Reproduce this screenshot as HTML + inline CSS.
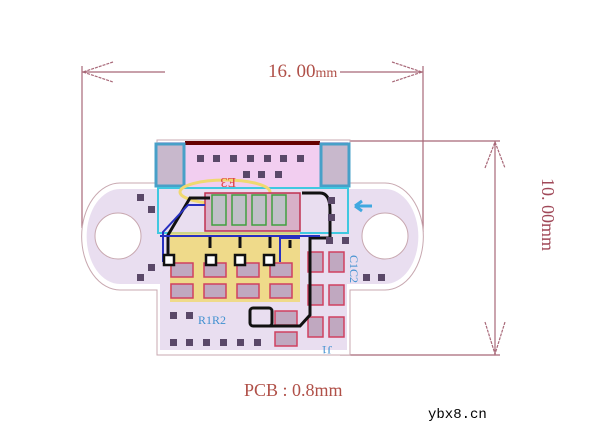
<!DOCTYPE html>
<html><head><style>body{margin:0;background:#fff}svg{display:block}</style></head><body>
<svg width="608" height="444" viewBox="0 0 608 444" xmlns="http://www.w3.org/2000/svg" font-family="Liberation Serif, serif">
<!-- dimension lines -->
<g stroke="#a86878" stroke-width="1.2" fill="none">
<line x1="82" y1="66" x2="82" y2="228"/>
<line x1="423" y1="66" x2="423" y2="232"/>
<line x1="82" y1="72" x2="165" y2="72"/>
<line x1="340" y1="72" x2="423" y2="72"/>
<path d="M113 62 L83 72 L113 82" stroke-dasharray="3 1"/>
<path d="M392 62 L422 72 L392 82" stroke-dasharray="3 1"/>
<line x1="350" y1="141" x2="500" y2="141"/>
<line x1="340" y1="355" x2="500" y2="355"/>
<line x1="495" y1="141" x2="495" y2="355"/>
<path d="M485 168 L495 142 L505 168" stroke-dasharray="3 1"/>
<path d="M485 322 L495 354 L505 322" stroke-dasharray="3 1"/>
</g>
<text x="268" y="77" font-size="19" fill="#b05048">16. 00<tspan font-size="14">mm</tspan></text>
<text transform="translate(542,178) rotate(90)" font-size="18" fill="#a04858">10. 00mm</text>
<text x="244" y="396" font-size="18" fill="#b05048">PCB : 0.8mm</text>
<text x="428" y="418" font-size="14" font-family="Liberation Mono, monospace" fill="#000">ybx8.cn</text>
<!-- board outline -->
<path d="M157 140 H350 V183 H385 A38 53 0 0 1 385 290 H350 V355 H157 V290 H120 A38 53 0 0 1 120 183 H157 Z" fill="#fff" stroke="#c8a8b0" stroke-width="1"/>
<path d="M160 143 H347 V189 H385 A33 47 0 0 1 385 284 H347 V350 H160 V284 H120 A33 47 0 0 1 120 189 H160 Z" fill="#e9def0"/>
<circle cx="118" cy="236" r="23" fill="#fff" stroke="#c8a8b0"/>
<circle cx="385" cy="236" r="23" fill="#fff" stroke="#c8a8b0"/>
<!-- connector top -->
<rect x="158" y="142" width="190" height="46" fill="#f2cef0"/>
<rect x="185" y="141" width="135" height="4" fill="#600"/>
<rect x="156" y="144" width="28" height="42" fill="#c8b8cc" stroke="#48a0c8" stroke-width="3"/>
<rect x="321" y="144" width="28" height="42" fill="#c8b8cc" stroke="#48a0c8" stroke-width="3"/>
<rect x="158" y="188" width="190" height="45" fill="none" stroke="#40c8e0" stroke-width="2"/>
<!-- yellow fill region -->
<rect x="170" y="232" width="130" height="70" fill="#f0d870" opacity="0.8"/>
<ellipse cx="225" cy="192" rx="45" ry="12" fill="none" stroke="#f0d870" stroke-width="3"/>
<!-- resistor array -->
<rect x="205" y="193" width="95" height="38" fill="#d8b0c8" stroke="#c03050" stroke-width="1.5"/>
<g fill="#c0c0c8" stroke="#40a040" stroke-width="1.5">
<rect x="212" y="195" width="14" height="30"/><rect x="232" y="195" width="14" height="30"/><rect x="252" y="195" width="14" height="30"/><rect x="272" y="195" width="14" height="30"/>
</g>
<!-- pads -->
<g fill="#c0a8c0" stroke="#d04060" stroke-width="1.5">
<rect x="171" y="263" width="22" height="14"/><rect x="204" y="263" width="22" height="14"/><rect x="237" y="263" width="22" height="14"/><rect x="270" y="263" width="22" height="14"/>
<rect x="171" y="284" width="22" height="14"/><rect x="204" y="284" width="22" height="14"/><rect x="237" y="284" width="22" height="14"/><rect x="270" y="284" width="22" height="14"/>
<rect x="329" y="252" width="15" height="20"/><rect x="329" y="285" width="15" height="20"/><rect x="329" y="317" width="15" height="20"/>
<rect x="308" y="252" width="15" height="20"/><rect x="308" y="285" width="15" height="20"/><rect x="308" y="317" width="15" height="20"/>
<rect x="275" y="311" width="22" height="14"/><rect x="275" y="332" width="22" height="14"/>
</g>
<!-- traces -->
<g fill="none" stroke="#111" stroke-width="3">
<path d="M168 262 V235 L190 198 H210"/>
<path d="M302 193 H320 Q330 193 330 210 V238 H310 V315 L300 326 H262"/>
<rect x="250" y="308" width="22" height="18" rx="3"/>
<path d="M210 248 V235 M240 248 V235 M270 248 V235 M290 248 V240"/>
</g>
<g fill="none" stroke="#2830c0" stroke-width="2">
<path d="M163 262 V232 L188 205 H205"/>
<path d="M280 262 V238 H300"/>
<line x1="160" y1="236" x2="320" y2="236"/>
</g>
<g fill="#fff" stroke="#111" stroke-width="2.5">
<rect x="164" y="255" width="10" height="10"/><rect x="206" y="255" width="10" height="10"/><rect x="235" y="255" width="10" height="10"/><rect x="264" y="255" width="10" height="10"/>
</g>
<!-- via squares -->
<g fill="#5a4868">
<rect x="197" y="155" width="7" height="7"/><rect x="213" y="155" width="7" height="7"/><rect x="230" y="155" width="7" height="7"/><rect x="247" y="155" width="7" height="7"/><rect x="264" y="155" width="7" height="7"/><rect x="280" y="155" width="7" height="7"/><rect x="297" y="155" width="7" height="7"/>
<rect x="243" y="171" width="7" height="7"/><rect x="258" y="171" width="7" height="7"/><rect x="275" y="171" width="7" height="7"/>
<rect x="137" y="194" width="7" height="7"/><rect x="148" y="206" width="7" height="7"/><rect x="148" y="264" width="7" height="7"/><rect x="137" y="274" width="7" height="7"/>
<rect x="328" y="197" width="7" height="7"/><rect x="328" y="214" width="7" height="7"/><rect x="326" y="237" width="7" height="7"/><rect x="342" y="237" width="7" height="7"/>
<rect x="363" y="274" width="7" height="7"/><rect x="378" y="274" width="7" height="7"/>
<rect x="170" y="312" width="7" height="7"/><rect x="186" y="312" width="7" height="7"/>
<rect x="170" y="339" width="7" height="7"/><rect x="186" y="339" width="7" height="7"/><rect x="203" y="339" width="7" height="7"/><rect x="220" y="339" width="7" height="7"/><rect x="237" y="339" width="7" height="7"/><rect x="254" y="339" width="7" height="7"/>
</g>
<text x="220" y="188" font-size="14" fill="#e04040" transform="rotate(180 228 183)">E3</text>
<text x="198" y="324" font-size="12" fill="#4090d0">R1R2</text>
<text x="350" y="255" font-size="12" fill="#4090d0" transform="rotate(90 350 255)">C1C2</text>
<text x="318" y="354" font-size="12" fill="#4090d0" transform="rotate(180 325 350)">J1</text>
<path d="M355 206 H372 M355 206 L362 201 M355 206 L362 211" stroke="#40a8e0" stroke-width="3" fill="none"/>
</svg>
</body></html>
